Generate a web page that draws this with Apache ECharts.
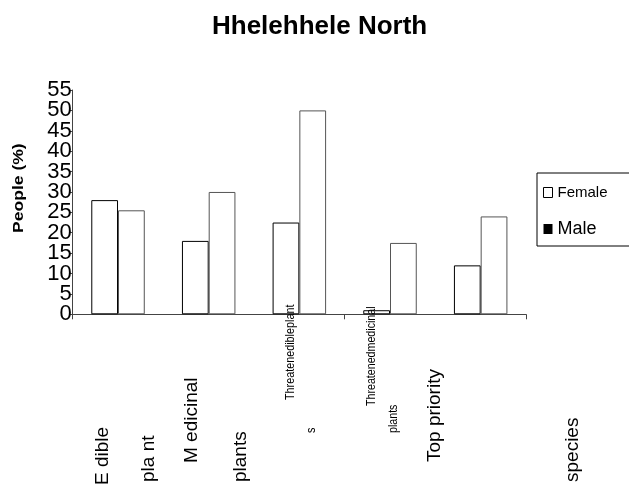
<!DOCTYPE html>
<html>
<head>
<meta charset="utf-8">
<script src="https://cdn.jsdelivr.net/npm/echarts@6/dist/echarts.min.js"></script>
<style>html,body{margin:0;padding:0;background:#fff}#c{width:629px;height:487px}</style>
</head>
<body>
<div id="c"></div>
<script>
var titleText = 'Hhelehhele North';
var yName = 'People (%)';
var categories = ['Edible plant', 'Medicinal plants', 'Threatened edible plants', 'Threatened medicinal plants', 'Top priority species'];
var seriesNames = ['Female', 'Male'];
var female = [28, 18, 22.5, 1, 12];
var male = [25.5, 30, 50, 17.5, 24];
var yTicks = [0, 5, 10, 15, 20, 25, 30, 35, 40, 45, 50, 55];
// broken x label fragments as drawn in the original
var xLabelFragments = ['E dible', 'pla nt', 'M edicinal', 'plants', 'Threatenedibleplant', 's', 'Threatenedmedicinal', 'plants', 'Top priority', 'species'];

// layout of fragments (screen placement)
var fragLayout = [
  [103, 485, 19, 1], [149, 482, 19, 1], [192, 463, 19, 1], [241, 482, 19, 1],
  [290, 400, 13, 0.83], [311, 433, 13, 0.83], [371, 406, 13, 0.82], [393, 433, 13, 0.82],
  [435, 462, 19, 1], [573, 482, 19, 1]
];
var FONT = 'Liberation Sans, Arial, sans-serif';
var graphics = xLabelFragments.map(function (t, i) {
  var L = fragLayout[i];
  return {
    type: 'text', x: L[0], y: L[1], rotation: Math.PI / 2, scaleX: L[3], scaleY: 1, z: 100,
    style: { text: t, fontSize: L[2], fontFamily: FONT, fill: '#000', align: 'left', verticalAlign: 'middle' }
  };
});
// y axis name, letter-spaced look
graphics.push({
  type: 'text', x: 19, y: 233, rotation: Math.PI / 2, scaleX: 1.17, scaleY: 1, z: 100,
  style: { text: yName, fontSize: 15, fontWeight: 'bold', fontFamily: FONT, fill: '#000', align: 'left', verticalAlign: 'middle' }
});

// tick labels split over two coincident axes so that the big, tightly packed labels are all kept
var ticksA = yTicks.filter(function (v, i) { return i % 2 === 0; });
var ticksB = yTicks.filter(function (v, i) { return i % 2 === 1; });
var yMin = yTicks[0], yMax = yTicks[yTicks.length - 1];
function yAxisWith(vals, main) {
  return {
    type: 'value', min: yMin, max: yMax, interval: 5, position: 'left', offset: 0,
    axisLine: { show: main, lineStyle: { color: '#444', width: 1 } },
    axisTick: { show: true, length: 3, customValues: vals, lineStyle: { color: '#444' } },
    axisLabel: { margin: 1, fontFamily: FONT, fontSize: 22, color: '#000', customValues: vals, hideOverlap: false },
    splitLine: { show: false }
  };
}

var chart = echarts.init(document.getElementById('c'));
chart.setOption({
  animation: false,
  backgroundColor: '#fff',
  title: {
    text: titleText, left: 207, top: 9,
    textStyle: { fontFamily: FONT, fontWeight: 'bold', fontSize: 26, color: '#000' }
  },
  legend: {
    orient: 'vertical', left: 537, top: 173,
    padding: [12, 40, 8, 6], itemGap: 20, itemWidth: 9, itemHeight: 10,
    borderColor: '#000', borderWidth: 1, icon: 'rect',
    textStyle: { fontFamily: FONT, color: '#000' },
    data: [
      { name: seriesNames[0], itemStyle: { color: '#fff', borderColor: '#000', borderWidth: 1 }, textStyle: { fontSize: 15 } },
      { name: seriesNames[1], itemStyle: { color: '#000', borderColor: '#000', borderWidth: 0 }, textStyle: { fontSize: 18 } }
    ]
  },
  grid: { left: 72.7, right: 103, top: 90, bottom: 172.7, containLabel: false },
  xAxis: {
    type: 'category', data: categories, boundaryGap: true,
    axisLine: { lineStyle: { color: '#444', width: 1 } },
    axisTick: { show: true, length: 5, lineStyle: { color: '#444' } },
    axisLabel: { show: false },
    splitLine: { show: false }
  },
  yAxis: [yAxisWith(ticksA, true), yAxisWith(ticksB, false)],
  series: [
    { name: seriesNames[0], type: 'bar', data: female, barGap: '0%', barCategoryGap: '41%',
      itemStyle: { color: '#fff', borderColor: '#000', borderWidth: 1 } },
    { name: seriesNames[1], type: 'bar', data: male, barGap: '0%', barCategoryGap: '41%',
      itemStyle: { color: '#fff', borderColor: '#555', borderWidth: 1 } }
  ],
  graphic: graphics
});
</script>
</body>
</html>
